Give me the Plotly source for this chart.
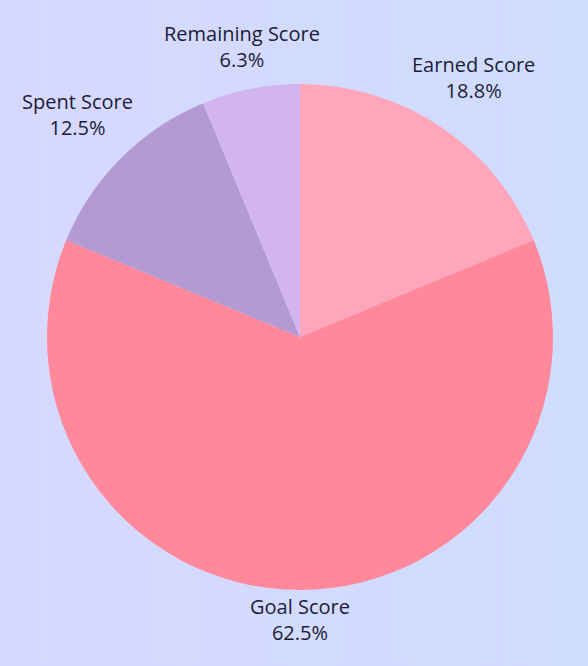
import math
import base64
from decimal import Decimal, ROUND_HALF_UP
import plotly.graph_objects as go

labels = ["Earned Score", "Goal Score", "Spent Score", "Remaining Score"]
values = [3, 10, 2, 1]
colors = ["#FFA6BB", "#FF889B", "#B49AD3", "#D2B5EF"]

W, H = 588, 666
ML, MR, MT, MB = 47, 35, 84, 76
PW, PH = W - ML - MR, H - MT - MB
R = PW / 2.0
FS = 20
TXT = "#1C1C38"

fig = go.Figure(go.Pie(
    labels=labels,
    values=values,
    sort=False,
    direction="clockwise",
    rotation=0,
    marker=dict(colors=colors, line=dict(width=0)),
    textinfo="none",
    showlegend=False,
    hovertemplate="%{label}<br>%{percent:.1%}<extra></extra>",
))


def pct(v, total):
    share = Decimal(v) * 100 / Decimal(total)
    return str(share.quantize(Decimal("0.1"), rounding=ROUND_HALF_UP))


# outside labels placed radially at each slice's mid-angle
total = sum(values)
cum = 0.0
annotations = []
for lab, v in zip(labels, values):
    mid = (cum + v / 2.0) / total * 2 * math.pi
    cum += v
    ux, uy = math.sin(mid), -math.cos(mid)  # screen direction (y down)
    w = 10.1 * len(lab)
    h = 44
    gap = 7
    d = R + gap + abs(ux) * w / 2 + abs(uy) * h / 2
    annotations.append(dict(
        x=0.5 + ux * d / PW, y=0.5 - uy * d / PH,
        xref="paper", yref="paper",
        xanchor="center", yanchor="middle",
        text=f"{lab}<br>{pct(v, total)}%",
        showarrow=False,
        align="center",
        font=dict(family="Open Sans", size=FS, color=TXT),
    ))

svg = (
    f'<svg xmlns="http://www.w3.org/2000/svg" width="{W}" height="{H}">'
    '<defs><linearGradient id="g" x1="0" y1="0" x2="1" y2="0">'
    '<stop offset="0" stop-color="#D7D8FF"/>'
    '<stop offset="1" stop-color="#CFDDFF"/>'
    '</linearGradient></defs>'
    f'<rect width="{W}" height="{H}" fill="url(#g)"/></svg>'
)
src = "data:image/svg+xml;base64," + base64.b64encode(svg.encode()).decode()

fig.update_layout(
    width=W, height=H,
    margin=dict(l=ML, r=MR, t=MT, b=MB),
    paper_bgcolor="#D3DAFF",
    plot_bgcolor="#D3DAFF",
    annotations=annotations,
    images=[dict(
        source=src, xref="paper", yref="paper",
        x=-ML / PW, y=1 + MT / PH, sizex=W / PW, sizey=H / PH,
        xanchor="left", yanchor="top", sizing="stretch", layer="below",
    )],
)

fig.write_html("out.html")
